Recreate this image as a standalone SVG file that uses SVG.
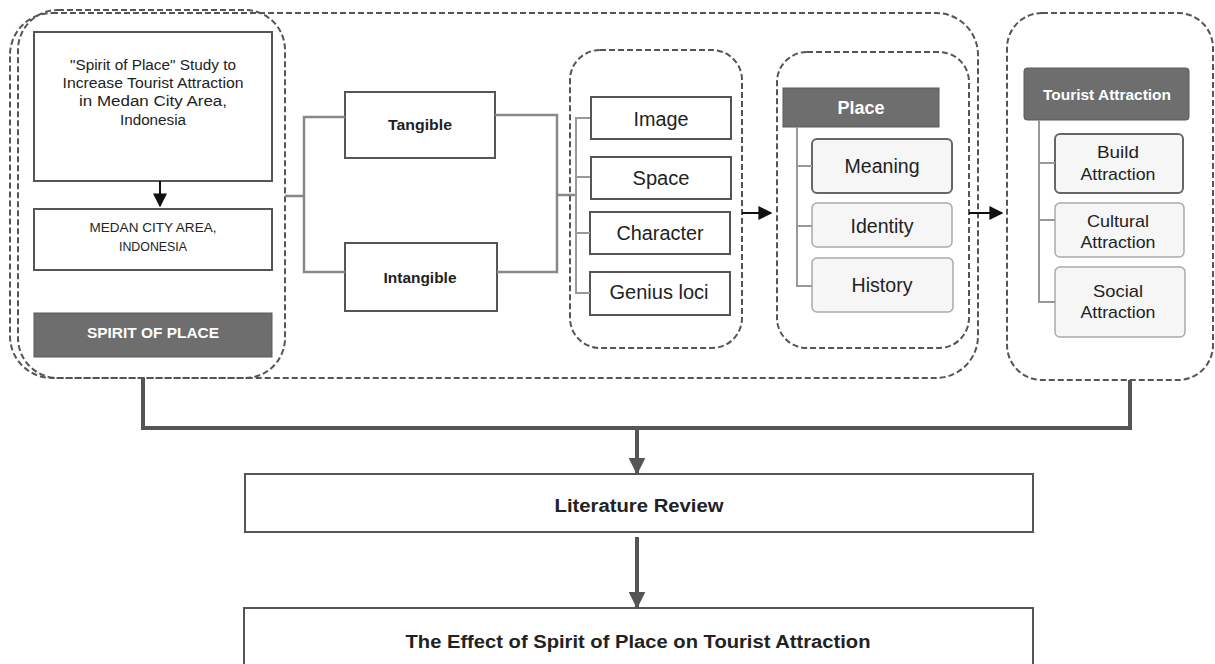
<svg xmlns="http://www.w3.org/2000/svg" width="1215" height="664" viewBox="0 0 1215 664">
<defs>
<style>
.dash{fill:none;stroke:#555;stroke-width:2;stroke-dasharray:6,3}
.box{fill:#fff;stroke:#555;stroke-width:2}
.soft{fill:#f6f6f6;stroke:#aaa;stroke-width:1.5}
.softd{fill:#f6f6f6;stroke:#666;stroke-width:2}
.hdr{fill:#6e6e6e;stroke:#5a5a5a;stroke-width:1}
.t{font-family:"Liberation Sans",Arial,sans-serif;fill:#222;text-anchor:middle}
.b{font-weight:bold}
.w{fill:#fff}
.br{fill:none;stroke:#999;stroke-width:2}
.con{fill:none;stroke:#888;stroke-width:2.5}
.blk{fill:none;stroke:#111;stroke-width:2}
.main{fill:none;stroke:#555;stroke-width:4}
</style>
<marker id="ab" viewBox="0 0 10 10" refX="9" refY="5" markerWidth="7" markerHeight="7" orient="auto" markerUnits="strokeWidth"><path d="M0,0 L10,5 L0,10 z" fill="#111"/></marker>
<marker id="ag" viewBox="0 0 10 10" refX="9" refY="5" markerWidth="4.2" markerHeight="4.5" orient="auto" markerUnits="strokeWidth"><path d="M0,0 L10,5 L0,10 z" fill="#555"/></marker>
</defs>
<rect width="1215" height="664" fill="#fff"/>

<g id="container">
<rect x="10" y="13" width="968" height="365" rx="42" fill="#f8f8f8" class="dash"/>
</g>

<g id="left-group">
<rect x="18" y="10" width="267" height="368" rx="40" class="dash"/>
</g>

<g id="study">
<rect x="34" y="32" width="238" height="149" class="box"/>
<text class="t" font-size="14" x="153" y="70" textLength="166" lengthAdjust="spacingAndGlyphs">"Spirit of Place" Study to</text>
<text class="t" font-size="14" x="153" y="88" textLength="181" lengthAdjust="spacingAndGlyphs">Increase Tourist Attraction</text>
<text class="t" font-size="14" x="153" y="106" textLength="148" lengthAdjust="spacingAndGlyphs">in Medan City Area,</text>
<text class="t" font-size="14" x="153" y="125" textLength="66" lengthAdjust="spacingAndGlyphs">Indonesia</text>
</g>

<g id="medan">
<rect x="34" y="209" width="238" height="61" class="box" stroke="#777"/>
<text class="t" font-size="12" x="153" y="232" textLength="127" lengthAdjust="spacingAndGlyphs">MEDAN CITY AREA,</text>
<text class="t" font-size="12" x="153" y="251" textLength="68" lengthAdjust="spacingAndGlyphs">INDONESIA</text>
</g>

<g id="spirit">
<rect x="34" y="313" width="238" height="44" class="hdr"/>
<text class="t b w" font-size="14" x="153" y="338" textLength="132" lengthAdjust="spacingAndGlyphs">SPIRIT OF PLACE</text>
</g>

<g id="tangible">
<rect x="345" y="92" width="150" height="66" class="box" stroke="#666"/>
<text class="t b" font-size="14" x="420" y="130" textLength="64" lengthAdjust="spacingAndGlyphs">Tangible</text>
</g>
<g id="intangible">
<rect x="345" y="243" width="152" height="68" class="box" stroke="#666"/>
<text class="t b" font-size="14" x="420" y="283" textLength="73" lengthAdjust="spacingAndGlyphs">Intangible</text>
</g>

<g id="elements-group">
<rect x="570" y="50" width="172" height="298" rx="30" class="dash"/>
</g>
<g id="image"><rect x="591" y="97" width="140" height="42" class="box"/><text class="t" font-size="20" x="661" y="126" textLength="55" lengthAdjust="spacingAndGlyphs">Image</text></g>
<g id="space"><rect x="591" y="157" width="140" height="42" class="box"/><text class="t" font-size="20" x="661" y="185" textLength="57" lengthAdjust="spacingAndGlyphs">Space</text></g>
<g id="character"><rect x="590" y="212" width="140" height="42" class="box"/><text class="t" font-size="20" x="660" y="240" textLength="87" lengthAdjust="spacingAndGlyphs">Character</text></g>
<g id="genius-loci"><rect x="590" y="272" width="140" height="43" class="box"/><text class="t" font-size="20" x="659" y="299" textLength="99" lengthAdjust="spacingAndGlyphs">Genius loci</text></g>

<g id="place-group">
<rect x="777" y="52" width="192" height="296" rx="30" class="dash"/>
</g>
<g id="place"><rect x="783" y="88" width="156" height="39" class="hdr"/><text class="t b w" font-size="18" x="861" y="114" textLength="47" lengthAdjust="spacingAndGlyphs">Place</text></g>
<g id="meaning"><rect x="812" y="139" width="140" height="54" rx="5" class="softd"/><text class="t" font-size="20" x="882" y="173" textLength="75" lengthAdjust="spacingAndGlyphs">Meaning</text></g>
<g id="identity"><rect x="812" y="203" width="140" height="44" rx="5" class="soft"/><text class="t" font-size="20" x="882" y="233" textLength="63" lengthAdjust="spacingAndGlyphs">Identity</text></g>
<g id="history"><rect x="812" y="258" width="141" height="54" rx="5" class="soft"/><text class="t" font-size="20" x="882" y="292" textLength="61" lengthAdjust="spacingAndGlyphs">History</text></g>

<g id="tourist-group">
<rect x="1007" y="13" width="206" height="367" rx="35" fill="#fff" class="dash"/>
</g>
<g id="tourist-attraction"><rect x="1024" y="68" width="165" height="52" rx="3" class="hdr"/><text class="t b w" font-size="15" x="1107" y="100" textLength="128" lengthAdjust="spacingAndGlyphs">Tourist Attraction</text></g>
<g id="build"><rect x="1055" y="134" width="128" height="59" rx="5" class="softd"/><text class="t" font-size="17" x="1118" y="158" textLength="42" lengthAdjust="spacingAndGlyphs">Build</text><text class="t" font-size="17" x="1118" y="180" textLength="75" lengthAdjust="spacingAndGlyphs">Attraction</text></g>
<g id="cultural"><rect x="1055" y="203" width="129" height="54" rx="5" class="soft"/><text class="t" font-size="17" x="1118" y="227" textLength="62" lengthAdjust="spacingAndGlyphs">Cultural</text><text class="t" font-size="17" x="1118" y="248" textLength="75" lengthAdjust="spacingAndGlyphs">Attraction</text></g>
<g id="social"><rect x="1055" y="267" width="130" height="70" rx="5" class="soft"/><text class="t" font-size="17" x="1118" y="297" textLength="50" lengthAdjust="spacingAndGlyphs">Social</text><text class="t" font-size="17" x="1118" y="318" textLength="75" lengthAdjust="spacingAndGlyphs">Attraction</text></g>

<g id="literature-review"><rect x="245" y="474" width="788" height="58" class="box"/><text class="t b" font-size="18" x="639" y="512" textLength="169" lengthAdjust="spacingAndGlyphs">Literature Review</text></g>
<g id="effect"><rect x="244" y="608" width="789" height="60" class="box"/><text class="t b" font-size="18" x="638" y="648" textLength="465" lengthAdjust="spacingAndGlyphs">The Effect of Spirit of Place on Tourist Attraction</text></g>

<g id="connectors">
<path class="blk" d="M160,181 V206" marker-end="url(#ab)"/>
<path class="con" d="M285,196 H304 M345,117 H304 V272 H345"/>
<path class="con" d="M495,115 H557 V272 H497 M557,195 H575"/>
<path class="br" d="M590,118 H576 V293 H590 M576,177 H590 M576,233 H590"/>
<path class="blk" d="M742,213 H771" marker-end="url(#ab)"/>
<path class="blk" d="M969,213 H1002" marker-end="url(#ab)"/>
<path class="br" d="M797,127 V286 H812 M797,166 H812 M797,226 H812"/>
<path class="br" d="M1039,120 V302 H1055 M1039,163 H1055 M1039,220 H1055"/>
<path class="main" d="M143,378 V428 H1130 V380"/>
<path class="main" d="M637,428 V473" marker-end="url(#ag)"/>
<path class="main" d="M637,537 V607" marker-end="url(#ag)"/>
</g>
</svg>
